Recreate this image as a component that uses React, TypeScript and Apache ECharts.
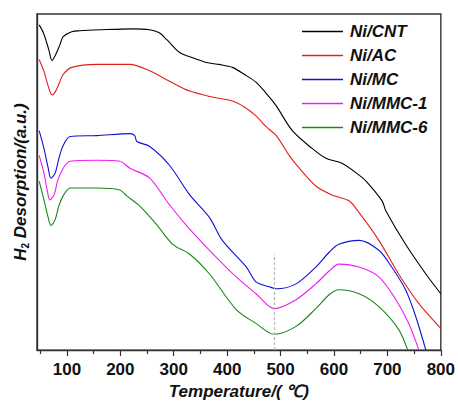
import React, { useEffect, useRef } from "react";
import * as echarts from "echarts";

// Temperature (°C) and relative H2 desorption signal (a.u.)
const cntT = [48, 56, 66, 72, 79, 87, 93, 109, 124, 162, 223, 255, 273, 287, 311, 329, 361, 385, 410, 432, 454, 479, 492, 522, 559, 585, 615, 647, 660, 690, 697, 734, 772, 800];
const cntV = [329, 321, 304, 293, 299, 309, 317, 322, 323, 324, 325, 324, 321, 314, 301, 297, 291, 289, 286, 279, 271, 256, 247, 222, 204, 194, 189, 177, 171, 151, 141, 107, 77, 57];

const acT = [48, 57, 65, 72, 79, 87, 93, 109, 156, 218, 249, 292, 330, 372, 410, 432, 454, 473, 492, 516, 535, 566, 596, 628, 647, 684, 721, 759, 800];
const acV = [294, 282, 267, 258, 262, 272, 279, 286, 289, 289, 284, 272, 262, 256, 252, 246, 237, 226, 217, 197, 184, 166, 157, 151, 139, 111, 77, 47, 22];

const mcT = [48, 57, 65, 70, 78, 85, 93, 106, 156, 218, 227, 231, 255, 292, 330, 367, 391, 436, 454, 479, 492, 529, 566, 591, 609, 647, 684, 708, 734, 753, 772];
const mcV = [222, 204, 184, 174, 179, 194, 207, 216, 217, 219, 217, 211, 206, 187, 157, 134, 111, 84, 69, 64, 62, 67, 84, 99, 107, 111, 101, 84, 61, 34, 0];

const mmc1T = [48, 57, 63, 68, 76, 83, 93, 106, 156, 199, 218, 255, 292, 324, 367, 417, 454, 488, 529, 566, 591, 609, 647, 684, 716, 740, 759];
const mmc1V = [197, 179, 162, 152, 157, 172, 184, 191, 192, 191, 184, 174, 147, 126, 101, 74, 57, 42, 51, 67, 80, 87, 84, 74, 51, 27, 0];

const mmc6T = [48, 57, 65, 70, 78, 85, 93, 106, 156, 199, 212, 236, 268, 298, 330, 367, 417, 454, 488, 529, 566, 591, 609, 647, 684, 721, 738];
const mmc6V = [171, 152, 134, 126, 132, 146, 156, 164, 164, 162, 156, 146, 127, 107, 97, 77, 41, 27, 16, 24, 42, 56, 61, 57, 44, 21, 0];

const seriesNames = ["Ni/CNT", "Ni/AC", "Ni/MC", "Ni/MMC-1", "Ni/MMC-6"];
const seriesColors = ["#000000", "#e0201b", "#1010d8", "#f01cf0", "#178a17"];
const seriesT = [cntT, acT, mcT, mmc1T, mmc6T];
const seriesV = [cntV, acV, mcV, mmc1V, mmc6V];

const majorTicks = [100, 200, 300, 400, 500, 600, 700, 800];
const minorTicks = [50, 150, 250, 350, 450, 550, 650, 750];
const markTemp = 488;
const markTop = 97;

const FONT = "Arial, 'Liberation Sans', sans-serif";

export default function App() {
  const ref = useRef<HTMLDivElement>(null);
  useEffect(() => {
    if (!ref.current) return;
    const chart = echarts.init(ref.current, undefined, { renderer: "svg" });
    const series: any[] = seriesNames.map((name, i) => ({
      name,
      type: "line",
      xAxisIndex: 0,
      showSymbol: false,
      symbol: "none",
      smooth: 0.3,
      data: seriesT[i].map((t, j) => [t, seriesV[i][j]]),
      lineStyle: { color: seriesColors[i], width: 1.1 },
      itemStyle: { color: seriesColors[i] },
      z: 3,
    }));
    series[4].markLine = {
      silent: true,
      symbol: "none",
      label: { show: false },
      lineStyle: { color: "#b8b8b8", type: [3, 2], width: 1.2 },
      data: [[{ coord: [markTemp, 0] }, { coord: [markTemp, markTop] }]],
    };
    chart.setOption({
      animation: false,
      backgroundColor: "#ffffff",
      grid: {
        left: 37,
        right: 16,
        top: 14,
        bottom: 51,
        show: true,
        borderColor: "#333",
        borderWidth: 1.4,
      },
      legend: {
        orient: "vertical",
        left: 302,
        top: 23,
        padding: 0,
        itemWidth: 41,
        itemHeight: 1.6,
        itemGap: 7,
        icon: "rect",
        data: seriesNames,
        textStyle: {
          fontFamily: FONT,
          fontSize: 17,
          fontWeight: "bold",
          fontStyle: "italic",
          color: "#111",
          padding: [0, 0, 0, 2],
        },
      },
      xAxis: [
        {
          type: "value",
          min: 44,
          max: 800,
          position: "bottom",
          name: "Temperature/( \u2103)",
          nameLocation: "middle",
          nameGap: 30,
          nameTextStyle: {
            fontFamily: FONT,
            fontSize: 17,
            fontWeight: "bold",
            fontStyle: "italic",
            color: "#111",
          },
          splitLine: { show: false },
          axisLine: { show: true, lineStyle: { color: "#333", width: 1.4 } },
          axisTick: {
            show: true,
            inside: false,
            length: 6,
            customValues: majorTicks,
            lineStyle: { color: "#333", width: 1.2 },
          },
          axisLabel: {
            customValues: majorTicks,
            margin: 11,
            fontFamily: FONT,
            fontSize: 17,
            fontWeight: "bold",
            color: "#111",
          },
        },
        {
          type: "value",
          min: 44,
          max: 800,
          position: "bottom",
          splitLine: { show: false },
          axisLine: { show: false },
          axisTick: {
            show: true,
            inside: false,
            length: 4,
            customValues: minorTicks,
            lineStyle: { color: "#333", width: 1.2 },
          },
          axisLabel: { show: false },
        },
      ],
      yAxis: {
        type: "value",
        min: 0,
        max: 340,
        name: "{a|H}{s|2}{a| Desorption/(a.u.)}",
        nameLocation: "middle",
        nameGap: 7,
        nameRotate: 90,
        nameTextStyle: {
          rich: {
            a: {
              fontFamily: FONT,
              fontSize: 17,
              fontWeight: "bold",
              fontStyle: "italic",
              color: "#111",
            },
            s: {
              fontFamily: FONT,
              fontSize: 10,
              fontWeight: "bold",
              color: "#111",
              padding: [9, 0, 0, 0],
            },
          },
        },
        splitLine: { show: false },
        axisLine: { show: true, lineStyle: { color: "#333", width: 1.4 } },
        axisTick: { show: false },
        axisLabel: { show: false },
      },
      series,
    });
    return () => chart.dispose();
  }, []);
  return <div ref={ref} style={{ width: 458, height: 405, position: "fixed", left: 0, top: 0 }} />;
}
